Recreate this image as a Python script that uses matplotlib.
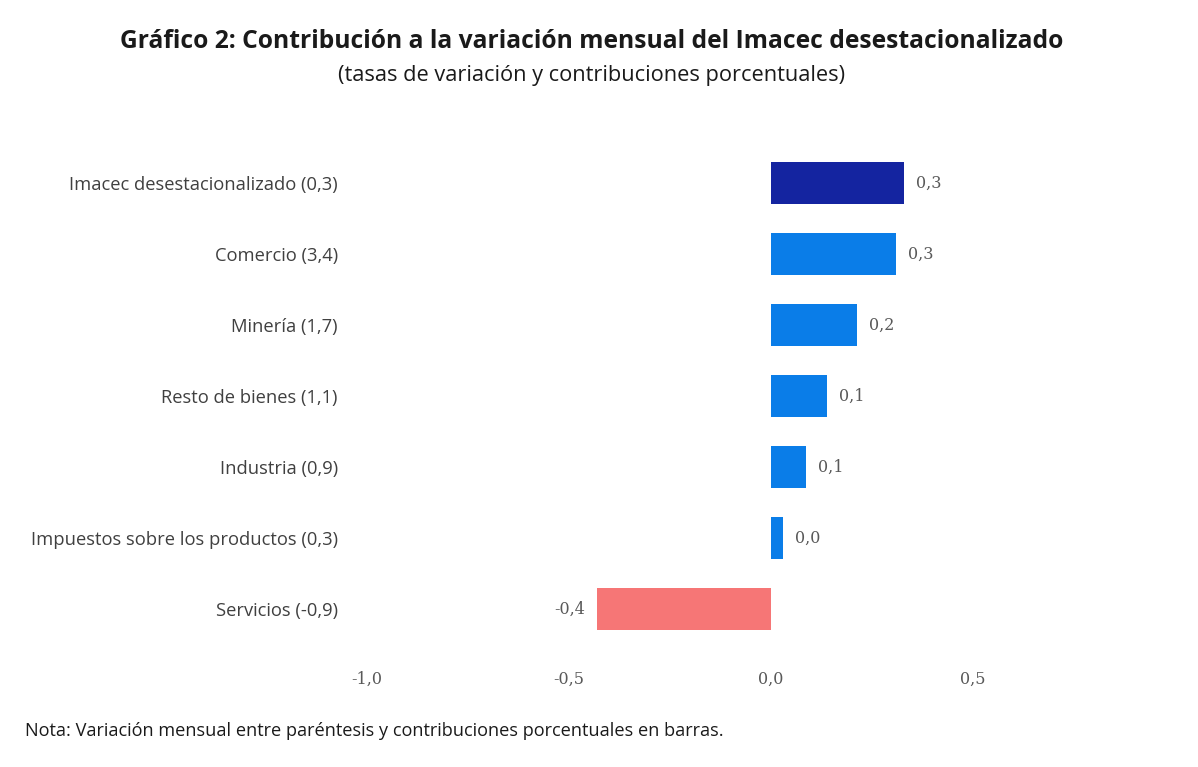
import matplotlib.pyplot as plt
import numpy as np

categorias = ["Imacec desestacionalizado (0,3)", "Comercio (3,4)", "Minería (1,7)",
              "Resto de bienes (1,1)", "Industria (0,9)",
              "Impuestos sobre los productos (0,3)", "Servicios (-0,9)"]
contribucion = [0.33, 0.31, 0.213, 0.139, 0.087, 0.03, -0.43]
etiquetas = ["0,3", "0,3", "0,2", "0,1", "0,1", "0,0", "-0,4"]
xticks = [-1.0, -0.5, 0.0, 0.5]
xtick_labels = ["-1,0", "-0,5", "0,0", "0,5"]

colores = []
for i, v in enumerate(contribucion):
    if i == 0:
        colores.append("#1424a0")
    elif v < 0:
        colores.append("#f67676")
    else:
        colores.append("#0a7de8")

fig = plt.figure(figsize=(11.98, 7.67), dpi=100)
ax = fig.add_axes([367 / 1198, 1 - 644.5 / 767, 767.6 / 1198, 497 / 767])

y = np.arange(len(categorias))
ax.barh(y, contribucion, height=0.58, color=colores)
ax.set_xlim(-1.0, 0.9)
ax.set_ylim(6.5, -0.5)
ax.set_yticks(y)
ax.set_yticklabels(categorias, family="Open Sans", fontsize=13.2, color="#404040")
ax.set_xticks(xticks)
ax.set_xticklabels(xtick_labels, family="DejaVu Serif", fontsize=11.5, color="#595959")
ax.tick_params(axis="both", length=0)
ax.tick_params(axis="y", pad=21)
ax.tick_params(axis="x", pad=19)
for s in ax.spines.values():
    s.set_visible(False)

for yi, v, lab in zip(y, contribucion, etiquetas):
    if v >= 0:
        ax.annotate(lab, (v, yi), xytext=(8.5, 0), textcoords="offset points",
                    ha="left", va="center", family="DejaVu Serif", fontsize=11.5, color="#595959")
    else:
        ax.annotate(lab, (v, yi), xytext=(-9, 0), textcoords="offset points",
                    ha="right", va="center", family="DejaVu Serif", fontsize=11.5, color="#595959")

fig.text(0.494, 1 - 42 / 767, "Gráfico 2: Contribución a la variación mensual del Imacec desestacionalizado",
         ha="center", va="center", family="Open Sans", fontsize=17.7, fontweight="bold", color="#1a1a1a")
fig.text(0.494, 1 - 75 / 767, "(tasas de variación y contribuciones porcentuales)",
         ha="center", va="center", family="Open Sans", fontsize=15.7, color="#1a1a1a")
fig.text(25 / 1198, 1 - 731 / 767, "Nota: Variación mensual entre paréntesis y contribuciones porcentuales en barras.",
         ha="left", va="center", family="Open Sans", fontsize=13.1, color="#1a1a1a")

fig.savefig("out.png", dpi=100)
